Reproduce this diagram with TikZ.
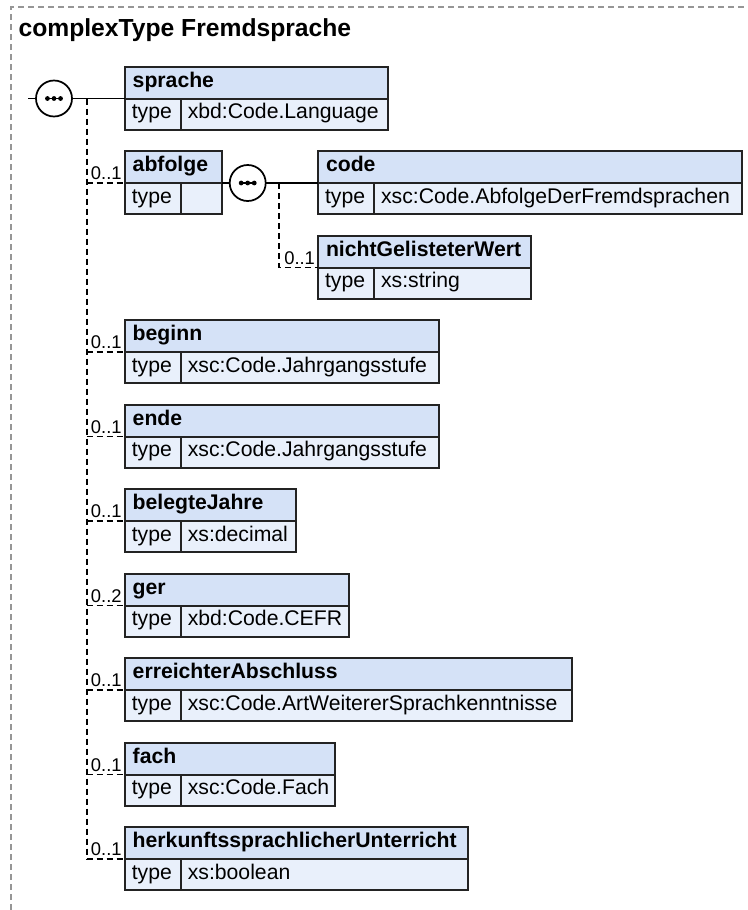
\documentclass[tikz,border=0pt]{standalone}
\usepackage{fontspec}
\setmainfont{Liberation Sans}
\definecolor{hdrc}{RGB}{213,226,247}
\definecolor{typc}{RGB}{233,240,251}
\definecolor{brd}{RGB}{35,35,35}
\definecolor{frm}{RGB}{150,150,150}
\tikzset{
 boxpart/.style={draw=brd, line width=1.5pt, outer sep=0pt, inner sep=0pt, anchor=north west},
 hdr/.style={boxpart, fill=hdrc},
 typ/.style={boxpart, fill=typc},
 htext/.style={anchor=base west, inner sep=0pt, font=\fontsize{15.9}{18}\selectfont\bfseries},
 ttext/.style={anchor=base west, inner sep=0pt, font=\fontsize{15.9}{18}\selectfont},
 card/.style={anchor=base east, inner sep=0pt, font=\fontsize{13.8}{16}\selectfont},
 conn/.style={draw=black, line width=1.3pt},
 opt/.style={draw=black, line width=1.3pt, dash pattern=on 4.5pt off 3pt},
 frame/.style={draw=frm, line width=0.8pt, dash pattern=on 4.5pt off 3pt},
 seqc/.style={circle, draw=black, fill=white, line width=1.3pt, minimum size=27pt, inner sep=0pt, outer sep=0pt},
}
\newcommand\elbox[7]{%
 \node[hdr, minimum width={(#4-#2)*0.75pt}, minimum height=24pt] (#1) at (#2,#3) {};
 \node[typ, minimum width={(#5-#2)*0.75pt}, minimum height=23.6pt] (#1-k) at (#1.south west) {};
 \node[typ, minimum width={(#4-#5)*0.75pt}, minimum height=23.6pt] (#1-v) at (#1-k.north east) {};
 \node[htext] (#1-n) at ([xshift=5.6pt, yshift=-15.5pt]#1.north west) {#6};
 \node[ttext] (#1-kt) at ([xshift=4.9pt, yshift=-15.3pt]#1-k.north west) {type};
 \node[ttext] (#1-vt) at ([xshift=4.9pt, yshift=-15.3pt]#1-v.north west) {#7};
}
\newcommand\seqnode[3]{%
 \node[seqc] (#1) at (#2,#3) {};
 \draw[line width=1.2pt] ([xshift=-4.9pt]#1.center) -- ([xshift=4.9pt]#1.center);
 \foreach \dx in {-4.9,0,4.9} \fill ([xshift=\dx pt]#1.center) circle (1.8pt);
}
\begin{document}
\begin{tikzpicture}[x=0.75pt,y=-0.75pt]
\useasboundingbox (0,0) rectangle (748,910);
\draw[frame] (11,910) -- (11,7) -- (748,7);
\node[anchor=base west, inner sep=0pt, font=\fontsize{18.5}{22}\selectfont\bfseries] (title) at (18.3,36.7) {complexType Fremdsprache};

\elbox{sprache}{125}{66.5}{388}{181}{sprache}{xbd:Code.Language}
\elbox{abfolge}{125}{151}{222}{181}{abfolge}{}
\elbox{code}{318.3}{151}{742.3}{374.3}{code}{xsc:Code.AbfolgeDerFremdsprachen}
\elbox{nicht}{318.3}{235.5}{531}{374.3}{nichtGelisteterWert}{xs:string}
\elbox{beginn}{125}{320}{438.7}{181}{beginn}{xsc:Code.Jahrgangsstufe}
\elbox{ende}{125}{404.5}{438.7}{181}{ende}{xsc:Code.Jahrgangsstufe}
\elbox{belegt}{125}{489}{295.7}{181}{belegteJahre}{xs:decimal}
\elbox{ger}{125}{573.5}{349}{181}{ger}{xbd:Code.CEFR}
\elbox{abschl}{125}{658}{572}{181}{erreichterAbschluss}{xsc:Code.ArtWeitererSprachkenntnisse}
\elbox{fach}{125}{742.5}{335}{181}{fach}{xsc:Code.Fach}
\elbox{herk}{125}{827}{468}{181}{herkunftssprachlicherUnterricht}{xs:boolean}

\coordinate (in) at (28,98.5);
\coordinate (trunk) at (86.7,98.5);
\coordinate (trunk2) at (279.3,183);
\draw[conn] (in) -- (54,98.5);
\draw[conn] (54,98.5) -- (sprache.south west);
\draw[opt] (trunk) -- (trunk |- herk.south west);
\foreach \n/\c in {abfolge/1,beginn/1,ende/1,belegt/1,ger/2,abschl/1,fach/1,herk/1} {
  \draw[opt] (trunk |- \n.south west) -- (\n.south west);
  \node[card] (\n-c) at ([xshift=-2.3pt,yshift=2.3pt]\n.south west) {0..\c};
}
\draw[conn] (abfolge.south east) -- (code.south west);
\draw[opt] (trunk2) -- (trunk2 |- nicht.south west) -- (nicht.south west);
\node[card] (nicht-c) at ([xshift=-2.3pt,yshift=2.3pt]nicht.south west) {0..1};
\seqnode{seq1}{54}{98.5}
\seqnode{seq2}{247.7}{183}
\end{tikzpicture}
\end{document}
